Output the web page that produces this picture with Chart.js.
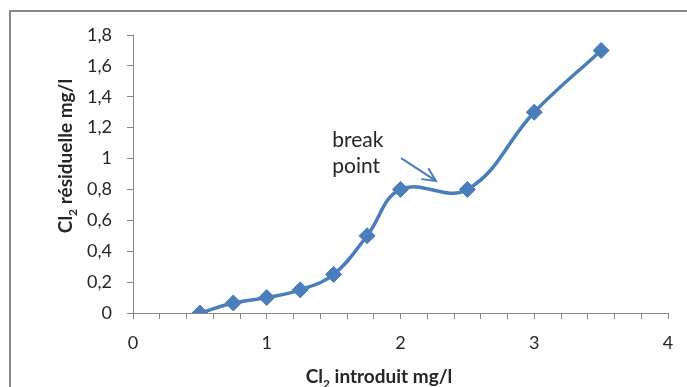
<!DOCTYPE html>
<html>
<head>
<meta charset="utf-8">
<script src="https://cdn.jsdelivr.net/npm/chart.js@4/dist/chart.umd.min.js"></script>
<style>
  html, body { margin: 0; padding: 0; background: #fff; }
  #wrap { width: 687px; height: 387px; position: relative; }
</style>
</head>
<body>
<div id="wrap"><canvas id="c" width="687" height="387"></canvas></div>
<script>
// Data
const chloreIntroduit = [0.5, 0.75, 1, 1.25, 1.5, 1.75, 2, 2.5, 3, 3.5];
const chloreResiduel  = [0, 0.065, 0.1, 0.15, 0.25, 0.5, 0.8, 0.8, 1.3, 1.7];
const xTickLabels = ['0', '1', '2', '3', '4'];
const yTickLabels = ['0', '0,2', '0,4', '0,6', '0,8', '1', '1,2', '1,4', '1,6', '1,8'];
const xTitle = ['Cl', '2', ' introduit mg/l'];
const yTitle = ['Cl', '2', ' résiduelle mg/l'];
const annotationLines = ['break', 'point'];
const annotationAnchor = { x: 1.49, y1: 1.075, y2: 0.907 };
const arrowFrom = { x: 2.01, y: 1.0 };
const arrowTo = { x: 2.265, y: 0.855 };

const BLUE = '#4a7ebb';
const AXIS = '#868686';
const TEXT = '#262626';
const FONT = 'Lato, "Open Sans", sans-serif';

const points = chloreIntroduit.map((x, i) => ({ x, y: chloreResiduel[i] }));

function drawSubTitle(ctx, parts, size) {
  ctx.font = 'bold ' + size + 'px ' + FONT;
  const w1 = ctx.measureText(parts[0]).width;
  const w3 = ctx.measureText(parts[2]).width;
  const sub = Math.round(size * 0.62);
  ctx.font = 'bold ' + sub + 'px ' + FONT;
  const w2 = ctx.measureText(parts[1]).width;
  const total = w1 + w2 + w3;
  let x = -total / 2;
  ctx.textBaseline = 'alphabetic';
  ctx.textAlign = 'left';
  ctx.font = 'bold ' + size + 'px ' + FONT;
  ctx.fillText(parts[0], x, 0); x += w1;
  ctx.font = 'bold ' + sub + 'px ' + FONT;
  ctx.fillText(parts[1], x, size * 0.25); x += w2;
  ctx.font = 'bold ' + size + 'px ' + FONT;
  ctx.fillText(parts[2], x, 0);
}

const decorPlugin = {
  id: 'decor',
  beforeDraw(chart) {
    const ctx = chart.ctx;
    ctx.save();
    ctx.fillStyle = '#fff';
    ctx.fillRect(0, 0, chart.width, chart.height);
    ctx.strokeStyle = '#8a8a8a';
    ctx.lineWidth = 2;
    ctx.beginPath();
    ctx.moveTo(10, chart.height + 2);
    ctx.lineTo(10, 11);
    ctx.lineTo(chart.width + 2, 11);
    ctx.stroke();
    ctx.restore();
  },
  afterDraw(chart) {
    const ctx = chart.ctx;
    const xs = chart.scales.x, ys = chart.scales.y;
    ctx.save();
    ctx.fillStyle = TEXT;
    ctx.save();
    ctx.translate(379, 383);
    drawSubTitle(ctx, xTitle, 19);
    ctx.restore();
    ctx.save();
    ctx.translate(72, 156);
    ctx.rotate(-Math.PI / 2);
    drawSubTitle(ctx, yTitle, 19);
    ctx.restore();
    // annotation text
    ctx.font = '21px ' + FONT;
    ctx.textAlign = 'left';
    ctx.textBaseline = 'alphabetic';
    ctx.fillStyle = TEXT;
    const tx = xs.getPixelForValue(annotationAnchor.x);
    ctx.fillText(annotationLines[0], tx, ys.getPixelForValue(annotationAnchor.y1));
    ctx.fillText(annotationLines[1], tx, ys.getPixelForValue(annotationAnchor.y2));
    // arrow
    const x0 = xs.getPixelForValue(arrowFrom.x), y0 = ys.getPixelForValue(arrowFrom.y);
    const x1 = xs.getPixelForValue(arrowTo.x), y1 = ys.getPixelForValue(arrowTo.y);
    ctx.strokeStyle = BLUE;
    ctx.lineWidth = 2;
    ctx.lineCap = 'round';
    ctx.beginPath();
    ctx.moveTo(x0, y0);
    ctx.lineTo(x1, y1);
    const ang = Math.atan2(y1 - y0, x1 - x0);
    const hl = 14, ha = 0.45;
    ctx.moveTo(x1 - hl * Math.cos(ang - ha), y1 - hl * Math.sin(ang - ha));
    ctx.lineTo(x1, y1);
    ctx.lineTo(x1 - hl * Math.cos(ang + ha), y1 - hl * Math.sin(ang + ha));
    ctx.stroke();
    ctx.restore();
  }
};

new Chart(document.getElementById('c'), {
  type: 'line',
  data: {
    datasets: [{
      data: points,
      borderColor: BLUE,
      backgroundColor: BLUE,
      borderWidth: 3.5,
      tension: 0.4,
      pointStyle: 'rectRot',
      pointRadius: 8,
      pointBorderWidth: 1,
      pointBorderColor: BLUE,
      pointBackgroundColor: BLUE,
      fill: false
    }]
  },
  options: {
    responsive: false,
    animation: false,
    devicePixelRatio: 1,
    layout: { padding: { left: 0, right: 19, top: 35, bottom: 0 } },
    plugins: { legend: { display: false }, tooltip: { enabled: false } },
    scales: {
      x: {
        type: 'linear',
        min: 0, max: 4,
        afterFit: s => { s.height = 74; },
        afterBuildTicks: s => {
          const t = [];
          for (let i = 0; i <= 20; i++) t.push({ value: i / 5 });
          s.ticks = t;
        },
        ticks: {
          autoSkip: false,
          maxRotation: 0,
          padding: 13,
          color: TEXT,
          font: { family: FONT, size: 18 },
          callback: v => {
            const r = Math.round(v);
            return Math.abs(v - r) < 1e-6 ? xTickLabels[r] : '';
          }
        },
        grid: { drawOnChartArea: false, tickLength: 6, color: AXIS, tickColor: AXIS },
        border: { color: AXIS, width: 1 }
      },
      y: {
        type: 'linear',
        min: 0, max: 1.8,
        afterFit: s => { s.width = 133; },
        afterBuildTicks: s => {
          const t = [];
          for (let i = 0; i <= 9; i++) t.push({ value: i / 5 });
          s.ticks = t;
        },
        ticks: {
          autoSkip: false,
          padding: 15,
          color: TEXT,
          font: { family: FONT, size: 18 },
          callback: v => yTickLabels[Math.round(v * 5)]
        },
        grid: { drawOnChartArea: false, tickLength: 6, color: AXIS, tickColor: AXIS },
        border: { color: AXIS, width: 1 }
      }
    }
  },
  plugins: [decorPlugin]
});
</script>
</body>
</html>
